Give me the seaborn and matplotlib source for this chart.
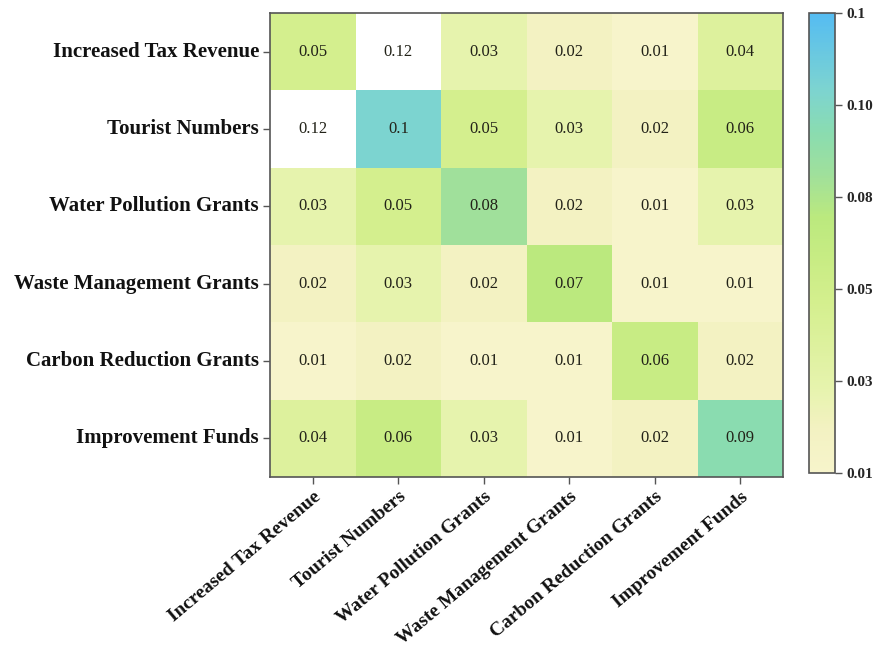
import numpy as np
import pandas as pd
import matplotlib
matplotlib.use("Agg")
import matplotlib.pyplot as plt
from matplotlib.colors import LinearSegmentedColormap
import seaborn as sns

# Factor names (rows and columns share the same order)
factors = [
    "Increased Tax Revenue",
    "Tourist Numbers",
    "Water Pollution Grants",
    "Waste Management Grants",
    "Carbon Reduction Grants",
    "Improvement Funds",
]

# Pairwise coefficients, one list per row
row_tax = [0.05, 0.12, 0.03, 0.02, 0.01, 0.04]
row_tourist = [0.12, 0.10, 0.05, 0.03, 0.02, 0.06]
row_water = [0.03, 0.05, 0.08, 0.02, 0.01, 0.03]
row_waste = [0.02, 0.03, 0.02, 0.07, 0.01, 0.01]
row_carbon = [0.01, 0.02, 0.01, 0.01, 0.06, 0.02]
row_improve = [0.04, 0.06, 0.03, 0.01, 0.02, 0.09]

# Colour bar range and its tick labels
vmin, vmax = 0.01, 0.118
cbar_labels = ["0.01", "0.03", "0.05", "0.08", "0.10", "0.1"]

matrix = pd.DataFrame(
    [row_tax, row_tourist, row_water, row_waste, row_carbon, row_improve],
    index=factors, columns=factors,
)

sns.set_theme(style="white")
plt.rcParams["font.family"] = ["Liberation Serif", "DejaVu Serif"]

cmap = LinearSegmentedColormap.from_list(
    "yellow_green_blue",
    [
        (0.000, "#f7f4cb"),
        (0.093, "#f3f2c2"),
        (0.185, "#e6f3ad"),
        (0.370, "#d4ef8e"),
        (0.463, "#c8ec84"),
        (0.556, "#bbe97e"),
        (0.648, "#a0e09b"),
        (0.740, "#8adcb0"),
        (0.833, "#7dd4d0"),
        (1.000, "#55bcf2"),
    ],
)
cmap.set_over("white")

fig = plt.figure(figsize=(8.74, 6.53), dpi=100)
ax = fig.add_axes([0.309, 0.2695, 0.587, 0.7105])
cax = fig.add_axes([0.9256, 0.2757, 0.0297, 0.7045])

sns.heatmap(
    matrix, ax=ax, cbar_ax=cax, cmap=cmap, vmin=vmin, vmax=vmax,
    annot=True, fmt="g", square=False,
    annot_kws={"fontsize": 12, "color": "#222218"},
)

for spine in ax.spines.values():
    spine.set_visible(True)
    spine.set_color("#555555")
    spine.set_linewidth(1.2)

ax.tick_params(axis="both", which="major", bottom=True, left=True,
               length=5, width=1, color="#555555", pad=3)
ax.set_yticklabels(factors, rotation=0, fontsize=15, fontweight="bold",
                   color="#111111")
ax.set_xticklabels(factors, rotation=40, ha="right", rotation_mode="anchor",
                   fontsize=14, fontweight="bold", color="#111111")
ax.set_xlabel("")
ax.set_ylabel("")

cbar = ax.collections[0].colorbar
cbar.set_ticks(np.linspace(vmin, vmax, len(cbar_labels)))
cbar.set_ticklabels(cbar_labels)
cbar.ax.tick_params(right=True, length=5, width=1, color="#555555",
                    labelsize=11)
for lbl in cbar.ax.get_yticklabels():
    lbl.set_fontweight("bold")
cbar.outline.set_visible(True)
cbar.outline.set_edgecolor("#555555")
cbar.outline.set_linewidth(1.2)

fig.savefig("out.png", dpi=100)
